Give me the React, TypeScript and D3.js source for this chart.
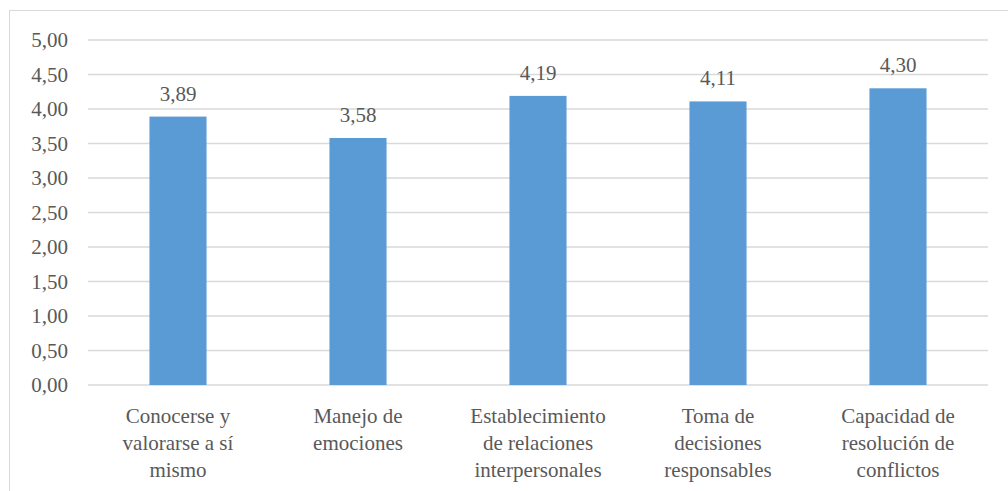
import React from "react";
import * as d3 from "d3";

const categories: string[][] = [
  ["Conocerse y", "valorarse a sí", "mismo"],
  ["Manejo de", "emociones"],
  ["Establecimiento", "de relaciones", "interpersonales"],
  ["Toma de", "decisiones", "responsables"],
  ["Capacidad de", "resolución de", "conflictos"],
];
const values: number[] = [3.89, 3.58, 4.19, 4.11, 4.3];
const yTicks: number[] = [0, 0.5, 1, 1.5, 2, 2.5, 3, 3.5, 4, 4.5, 5];

const W = 1008;
const H = 491;
const fmt = (v: number) => v.toFixed(2).replace(".", ",");

export default function App() {
  const x = d3
    .scaleBand<number>()
    .domain(values.map((_, i) => i))
    .range([88, 988])
    .paddingInner(0.683)
    .paddingOuter(0.3415);
  const y = d3.scaleLinear().domain([0, 5]).range([385, 40]);
  const font = "'Liberation Serif', 'Tinos', 'DejaVu Serif', serif";
  const textColor = "#595959";
  const fs = 21;
  const ts = { fontFamily: font, fontSize: fs } as React.CSSProperties;

  return (
    <svg
      width={W}
      height={H}
      style={{ position: "fixed", left: 0, top: 0, background: "#fff", fontFamily: font }}
    >
      <rect x={0} y={0} width={W} height={H} fill="#fff" />
      <rect x={9.5} y={10.5} width={W + 10} height={H + 10} fill="none" stroke="#d9d9d9" strokeWidth={1} />
      {yTicks.map((t) => (
        <g key={t}>
          <line x1={88} x2={988} y1={y(t)} y2={y(t)} stroke="#d9d9d9" strokeWidth={1.3} />
          <text
            x={68}
            y={y(t)}
            textAnchor="end"
            dominantBaseline="central"
            style={ts}
            fill={textColor}
          >
            {fmt(t)}
          </text>
        </g>
      ))}
      {values.map((v, i) => {
        const bx = x(i)!;
        const cx = bx + x.bandwidth() / 2;
        return (
          <g key={i}>
            <rect x={bx} y={y(v)} width={x.bandwidth()} height={y(0) - y(v)} fill="#5B9BD5" />
            <text x={cx} y={y(v) - 16} textAnchor="middle" style={ts} fill={textColor}>
              {fmt(v)}
            </text>
            {categories[i].map((line, j) => (
              <text
                key={j}
                x={cx}
                y={423 + j * 27}
                textAnchor="middle"
                style={ts}
                fill={textColor}
              >
                {line}
              </text>
            ))}
          </g>
        );
      })}
    </svg>
  );
}
